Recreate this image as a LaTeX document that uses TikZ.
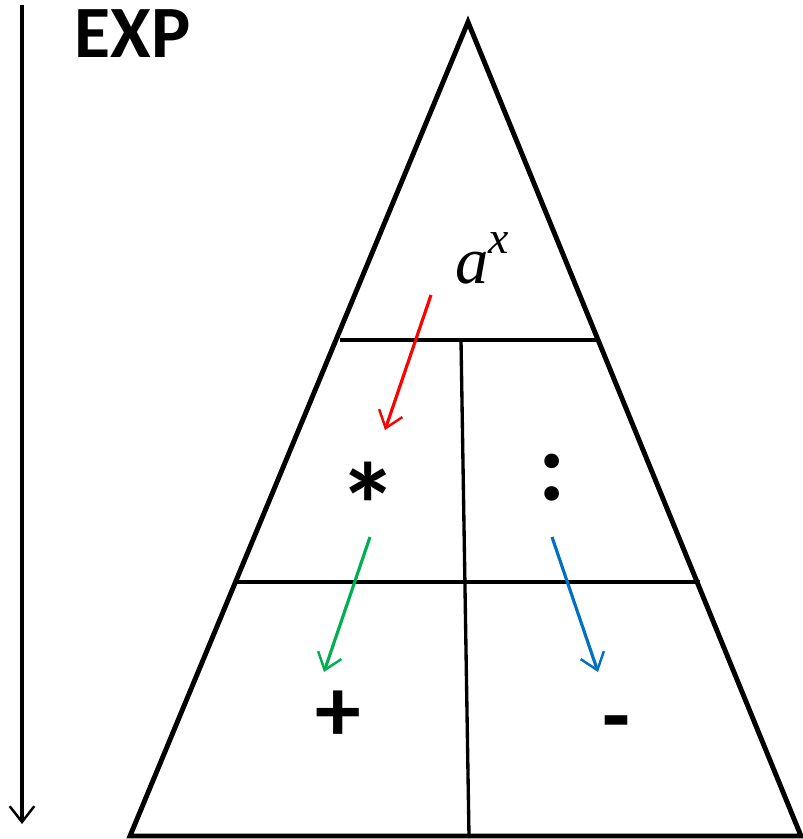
\documentclass[tikz,border=0pt]{standalone}
\usepackage{fontspec}
\setmainfont{Liberation Serif}
\newfontfamily\calfont{Carlito}
\usetikzlibrary{arrows.meta, positioning}

\begin{document}
\begin{tikzpicture}[
    x=0.02cm, y=-0.02cm, line join=miter,
    frame/.style={line width=2.8pt},
    divider/.style={line width=1.9pt},
    flow/.style={-{Straight Barb[length=9pt, width=14pt, line width=1.4pt]}, line width=1.8pt},
    op/.style={font=\calfont\bfseries\fontsize{52}{54}\selectfont, inner sep=0pt}]

    % Canvas
    \useasboundingbox (0,0) rectangle (802,839);

    % Define corners of the triangle
    \coordinate (top) at (468,22);
    \coordinate (bl) at (130,836);
    \coordinate (br) at (801,836);

    % Draw triangle and dividers
    \draw[frame] (bl) -- (top) -- (br) -- cycle;
    \draw[frame] (340,340) -- (598,340);
    \draw[frame] (237,582) -- (700,582);
    \draw[divider] (461,340) -- (469,836);

    % Define operators
    \node (pow) at (482,258) {\fontsize{38}{40}\selectfont\itshape a\raisebox{0.45em}{\fontsize{26}{28}\selectfont x}};
    \node[op, font=\calfont\bfseries\fontsize{68}{70}\selectfont] (mul) at (368,505) {*};
    \node[op, font=\calfont\bfseries\fontsize{56}{58}\selectfont] (div) at (552,478) {:};
    \node[op] (add) at (338,716) {+};
    \node[op] (sub) at (616,731) {-};

    % Draw precedence arrows
    \coordinate (r1) at (431,295); \coordinate (r2) at (385,430);
    \coordinate (g1) at (370,537); \coordinate (g2) at (324,672);
    \coordinate (b1) at (552,537); \coordinate (b2) at (598,672);
    \draw[flow, color={rgb,255:red,255;green,0;blue,0}] (r1) -- (r2);
    \draw[flow, color={rgb,255:red,0;green,176;blue,80}] (g1) -- (g2);
    \draw[flow, color={rgb,255:red,0;green,112;blue,192}] (b1) -- (b2);

    % Exponent axis
    \node[font=\calfont\bfseries\fontsize{42}{44}\selectfont, anchor=north west, inner sep=0pt] (exp) at (74,9) {EXP};
    \coordinate (ax1) at (22,5); \coordinate (ax2) at (22,824);
    \draw[flow] (ax1) -- (ax2);

\end{tikzpicture}
\end{document}
